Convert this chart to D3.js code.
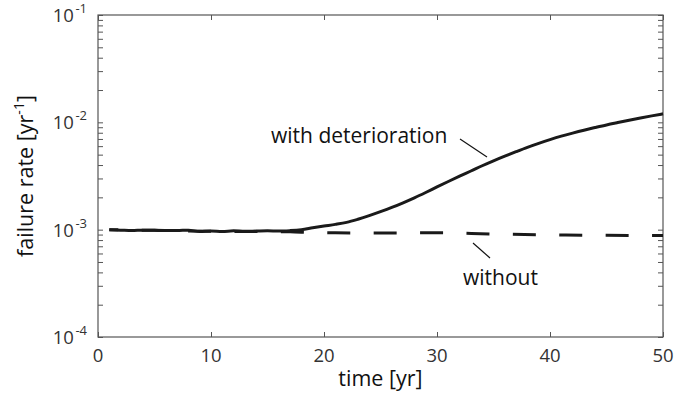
<!DOCTYPE html>
<html>
<head>
<meta charset="utf-8">
<script src="https://cdn.jsdelivr.net/npm/d3@7"></script>
<style>
  body { margin: 0; background: #fff; }
  svg { display: block; font-family: "Open Sans", sans-serif; }
</style>
</head>
<body>
<div id="chartContainer"></div>
<script>
// failure rate with / without deterioration
const solidYears = [1, 2, 3, 4, 5, 6, 7, 8, 9, 10, 11, 12, 13, 14, 15, 16, 17, 18, 19, 20,
  21, 22, 23, 24, 25, 26, 27, 28, 29, 30, 31, 32, 33, 34, 35, 36, 37, 38, 39, 40,
  41, 42, 43, 44, 45, 46, 47, 48, 49, 50];
const solidRate = [1.00, 0.99, 0.98, 0.99, 0.985, 0.98, 0.98, 0.99, 0.96, 0.97,
  0.96, 0.975, 0.965, 0.97, 0.975, 0.97, 0.98, 1.00, 1.04, 1.08,
  1.12, 1.17, 1.25, 1.35, 1.47, 1.61, 1.78, 1.98, 2.22, 2.50,
  2.81, 3.15, 3.52, 3.94, 4.38, 4.84, 5.33, 5.85, 6.37, 6.90,
  7.43, 7.94, 8.45, 8.95, 9.46, 9.95, 10.45, 10.96, 11.48, 12.0].map(v => v * 1e-3);

const dashedYears = [1, 5, 10, 15, 17, 19, 21, 25, 30, 35, 40, 45, 50];
const dashedRate = [1.00, 0.985, 0.965, 0.96, 0.955, 0.94, 0.935, 0.93, 0.935, 0.91, 0.895, 0.885, 0.88].map(v => v * 1e-3);

const xTicks = [0, 10, 20, 30, 40, 50];
const yDecades = [1e-4, 1e-3, 1e-2, 1e-1];
const yExponents = ["-4", "-3", "-2", "-1"];

const fullWidth = 698, fullHeight = 403;
const margin = {top: 15, right: 35, bottom: 66, left: 98};

const x = d3.scaleLinear().domain([0, 50]).range([margin.left, fullWidth - margin.right]);
const y = d3.scaleLog().domain([1e-4, 1e-1]).range([fullHeight - margin.bottom, margin.top]);

const svg = d3.select("#chartContainer").append("svg")
  .attr("width", fullWidth)
  .attr("height", fullHeight);

const axisColor = "#555";
const labelColor = "#333";
const textColor = "#111";

// minor + major log ticks
const yTickVals = [];
yDecades.slice(0, 3).forEach(d => { for (let k = 1; k < 10; k++) yTickVals.push(d * k); });
yTickVals.push(1e-1);

function styleAxis(g) {
  g.select(".domain").remove();
  g.selectAll(".tick line").attr("stroke", axisColor).attr("stroke-width", 1);
  g.selectAll(".tick text").remove();
}

svg.append("g").attr("transform", `translate(${margin.left},0)`)
  .call(d3.axisLeft(y).tickValues(yTickVals).tickSize(-5)).call(styleAxis);
svg.append("g").attr("transform", `translate(${fullWidth - margin.right},0)`)
  .call(d3.axisRight(y).tickValues(yTickVals).tickSize(-5)).call(styleAxis);
svg.append("g").attr("transform", `translate(0,${fullHeight - margin.bottom})`)
  .call(d3.axisBottom(x).tickValues(xTicks).tickSize(-5)).call(styleAxis);
svg.append("g").attr("transform", `translate(0,${margin.top})`)
  .call(d3.axisTop(x).tickValues(xTicks).tickSize(-5)).call(styleAxis);

// frame
svg.append("rect")
  .attr("x", x(0)).attr("y", y(1e-1))
  .attr("width", x(50) - x(0)).attr("height", y(1e-4) - y(1e-1))
  .attr("fill", "none").attr("stroke", axisColor).attr("stroke-width", 1.2);

// x tick labels
svg.append("g").selectAll("text")
  .data(xTicks)
  .join("text")
    .attr("x", d => x(d))
    .attr("y", fullHeight - margin.bottom + 25)
    .attr("text-anchor", "middle")
    .attr("fill", labelColor)
    .style("font-size", "18.5px")
    .text(d => d);

// y tick labels with superscripts
const yLab = svg.append("g").selectAll("text")
  .data(yDecades)
  .join("text")
    .attr("x", margin.left - 11)
    .attr("y", d => y(d) + 7)
    .attr("text-anchor", "end")
    .attr("fill", labelColor)
    .style("font-size", "18.5px");
yLab.append("tspan").text("10");
yLab.append("tspan")
  .attr("dx", 1.5)
  .attr("dy", -9)
  .style("font-size", "13px")
  .text((d, i) => yExponents[i]);

// axis titles
svg.append("text")
  .attr("x", (x(0) + x(50)) / 2)
  .attr("y", 386)
  .attr("text-anchor", "middle")
  .attr("fill", textColor)
  .style("font-size", "21.5px")
  .text("time [yr]");

const yTitle = svg.append("text")
  .attr("transform", `translate(33,${(y(1e-4) + y(1e-1)) / 2}) rotate(-90)`)
  .attr("text-anchor", "middle")
  .attr("fill", textColor)
  .style("font-size", "21.5px");
yTitle.append("tspan").text("failure rate [yr");
yTitle.append("tspan").attr("dy", -9).style("font-size", "14px").text("-1");
yTitle.append("tspan").attr("dy", 9).text("]");

// curves
const line = d3.line().curve(d3.curveMonotoneX);

svg.append("path")
  .datum(dashedYears.map((t, i) => [x(t), y(dashedRate[i])]))
  .attr("d", line)
  .attr("fill", "none")
  .attr("stroke", "#1a1a1a")
  .attr("stroke-width", 3)
  .attr("stroke-dasharray", "23,23.4")
  .attr("stroke-dashoffset", 14);

svg.append("path")
  .datum(solidYears.map((t, i) => [x(t), y(solidRate[i])]))
  .attr("d", line)
  .attr("fill", "none")
  .attr("stroke", "#1a1a1a")
  .attr("stroke-width", 3)
  .attr("stroke-linejoin", "round");

// annotations
svg.append("text")
  .attr("x", 271).attr("y", 143)
  .attr("fill", textColor)
  .style("font-size", "21px")
  .text("with deterioration");
svg.append("line")
  .attr("x1", 460).attr("y1", 139).attr("x2", 487).attr("y2", 157)
  .attr("stroke", textColor).attr("stroke-width", 1.2);

svg.append("text")
  .attr("x", 463).attr("y", 285)
  .attr("fill", textColor)
  .style("font-size", "21px")
  .text("without");
svg.append("line")
  .attr("x1", 473).attr("y1", 243).attr("x2", 490).attr("y2", 258)
  .attr("stroke", textColor).attr("stroke-width", 1.2);
</script>
</body>
</html>
